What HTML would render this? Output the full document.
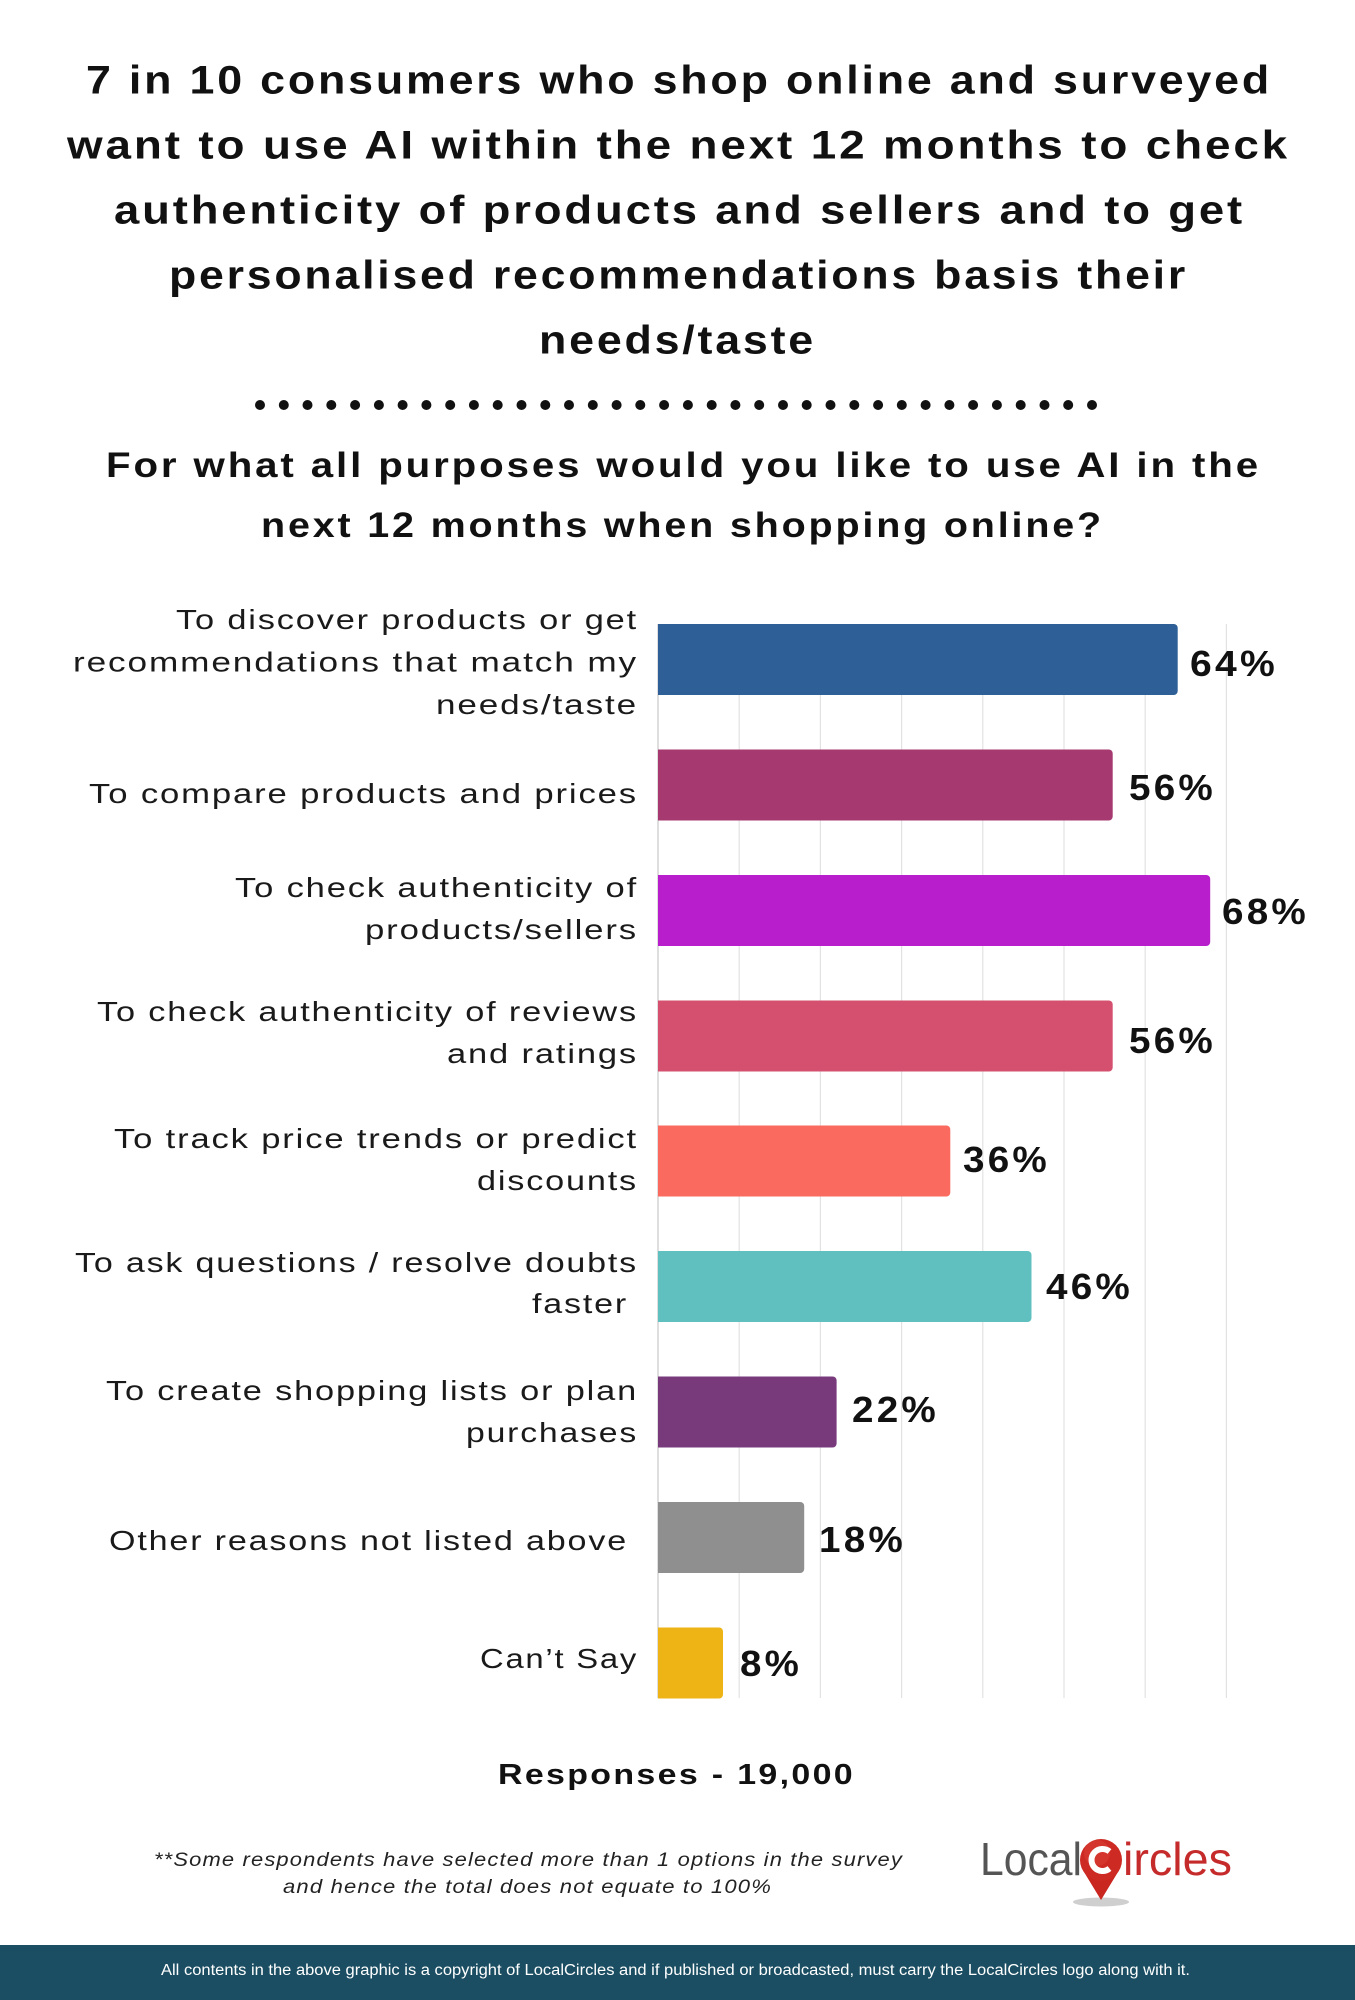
<!DOCTYPE html>
<html>
<head>
<meta charset="utf-8">
<style>
  html,body{margin:0;padding:0;background:#fff;}
  svg{display:block;}
  .t{font-family:"Liberation Sans",Arial,sans-serif;font-weight:bold;fill:#111;}
  .l{font-family:"Liberation Sans",Arial,sans-serif;font-weight:normal;fill:#1a1a1a;font-size:28px;letter-spacing:1.5px;}
  .v{font-family:"Liberation Sans",Arial,sans-serif;font-weight:bold;fill:#111;font-size:36px;letter-spacing:3px;}
</style>
</head>
<body>
<svg width="1355" height="2000" viewBox="0 0 1355 2000" xmlns="http://www.w3.org/2000/svg">
  <rect x="0" y="0" width="1355" height="2000" fill="#ffffff"/>

  <!-- Title -->
  <g class="t" font-size="40" letter-spacing="2.5">
    <text x="86" y="93.5" textLength="1186" lengthAdjust="spacingAndGlyphs">7 in 10 consumers who shop online and surveyed</text>
    <text x="67" y="158.5" textLength="1223" lengthAdjust="spacingAndGlyphs">want to use AI within the next 12 months to check</text>
    <text x="114" y="223.5" textLength="1131" lengthAdjust="spacingAndGlyphs">authenticity of products and sellers and to get</text>
    <text x="169" y="288.5" textLength="1019" lengthAdjust="spacingAndGlyphs">personalised recommendations basis their</text>
    <text x="539" y="353.5" textLength="277" lengthAdjust="spacingAndGlyphs">needs/taste</text>
  </g>

  <!-- Dots -->
  <g fill="#111">
    <circle cx="260" cy="405" r="5"/><circle cx="283.8" cy="405" r="5"/><circle cx="307.5" cy="405" r="5"/><circle cx="331.3" cy="405" r="5"/><circle cx="355.1" cy="405" r="5"/><circle cx="378.9" cy="405" r="5"/><circle cx="402.6" cy="405" r="5"/><circle cx="426.4" cy="405" r="5"/><circle cx="450.2" cy="405" r="5"/><circle cx="473.9" cy="405" r="5"/><circle cx="497.7" cy="405" r="5"/><circle cx="521.5" cy="405" r="5"/><circle cx="545.3" cy="405" r="5"/><circle cx="569" cy="405" r="5"/><circle cx="592.8" cy="405" r="5"/><circle cx="616.6" cy="405" r="5"/><circle cx="640.3" cy="405" r="5"/><circle cx="664.1" cy="405" r="5"/><circle cx="687.9" cy="405" r="5"/><circle cx="711.7" cy="405" r="5"/><circle cx="735.4" cy="405" r="5"/><circle cx="759.2" cy="405" r="5"/><circle cx="783" cy="405" r="5"/><circle cx="806.7" cy="405" r="5"/><circle cx="830.5" cy="405" r="5"/><circle cx="854.3" cy="405" r="5"/><circle cx="878.1" cy="405" r="5"/><circle cx="901.8" cy="405" r="5"/><circle cx="925.6" cy="405" r="5"/><circle cx="949.4" cy="405" r="5"/><circle cx="973.1" cy="405" r="5"/><circle cx="996.9" cy="405" r="5"/><circle cx="1020.7" cy="405" r="5"/><circle cx="1044.5" cy="405" r="5"/><circle cx="1068.2" cy="405" r="5"/><circle cx="1092" cy="405" r="5"/>
  </g>

  <!-- Subtitle -->
  <g class="t" font-size="35" letter-spacing="2.5">
    <text x="106" y="477" textLength="1155" lengthAdjust="spacingAndGlyphs">For what all purposes would you like to use AI in the</text>
    <text x="261" y="537" textLength="843" lengthAdjust="spacingAndGlyphs">next 12 months when shopping online?</text>
  </g>

  <!-- Gridlines -->
  <g stroke="#e2e2e2" stroke-width="1.2">
    <line x1="739.2" y1="624" x2="739.2" y2="1698"/>
    <line x1="820.4" y1="624" x2="820.4" y2="1698"/>
    <line x1="901.6" y1="624" x2="901.6" y2="1698"/>
    <line x1="982.8" y1="624" x2="982.8" y2="1698"/>
    <line x1="1064" y1="624" x2="1064" y2="1698"/>
    <line x1="1145.2" y1="624" x2="1145.2" y2="1698"/>
    <line x1="1226.4" y1="624" x2="1226.4" y2="1698"/>
  </g>
  <line x1="658" y1="624" x2="658" y2="1698" stroke="#cfcfcf" stroke-width="1.4"/>

  <!-- Bars -->
  <g>
    <rect x="658" y="624" width="519.7" height="71" rx="4" fill="#2E5F96"/>
    <rect x="658" y="624" width="10" height="71" fill="#2E5F96"/>

    <rect x="658" y="749.5" width="454.7" height="71" rx="4" fill="#A6396F"/>
    <rect x="658" y="749.5" width="10" height="71" fill="#A6396F"/>

    <rect x="658" y="875" width="552.2" height="71" rx="4" fill="#B81ECB"/>
    <rect x="658" y="875" width="10" height="71" fill="#B81ECB"/>

    <rect x="658" y="1000.5" width="454.7" height="71" rx="4" fill="#D5506E"/>
    <rect x="658" y="1000.5" width="10" height="71" fill="#D5506E"/>

    <rect x="658" y="1125.5" width="292.3" height="71" rx="4" fill="#FA6A5E"/>
    <rect x="658" y="1125.5" width="10" height="71" fill="#FA6A5E"/>

    <rect x="658" y="1251" width="373.5" height="71" rx="4" fill="#60C0C0"/>
    <rect x="658" y="1251" width="10" height="71" fill="#60C0C0"/>

    <rect x="658" y="1376.5" width="178.6" height="71" rx="4" fill="#793A7C"/>
    <rect x="658" y="1376.5" width="10" height="71" fill="#793A7C"/>

    <rect x="658" y="1502" width="146.2" height="71" rx="4" fill="#8F8F8F"/>
    <rect x="658" y="1502" width="10" height="71" fill="#8F8F8F"/>

    <rect x="658" y="1627.5" width="65" height="71" rx="4" fill="#EEB416"/>
    <rect x="658" y="1627.5" width="10" height="71" fill="#EEB416"/>
  </g>

  <!-- Value labels -->
  <g class="v">
    <text x="1190" y="676" textLength="88" lengthAdjust="spacingAndGlyphs">64%</text>
    <text x="1129" y="800" textLength="87" lengthAdjust="spacingAndGlyphs">56%</text>
    <text x="1222" y="924" textLength="87" lengthAdjust="spacingAndGlyphs">68%</text>
    <text x="1129" y="1053" textLength="87" lengthAdjust="spacingAndGlyphs">56%</text>
    <text x="963" y="1172" textLength="87" lengthAdjust="spacingAndGlyphs">36%</text>
    <text x="1046" y="1299" textLength="87" lengthAdjust="spacingAndGlyphs">46%</text>
    <text x="852" y="1422" textLength="87" lengthAdjust="spacingAndGlyphs">22%</text>
    <text x="819" y="1552" textLength="87" lengthAdjust="spacingAndGlyphs">18%</text>
    <text x="740" y="1676" textLength="62" lengthAdjust="spacingAndGlyphs">8%</text>
  </g>

  <!-- Category labels -->
  <g class="l">
    <text x="176" y="629" textLength="462" lengthAdjust="spacingAndGlyphs">To discover products or get</text>
    <text x="73" y="671.5" textLength="565" lengthAdjust="spacingAndGlyphs">recommendations that match my</text>
    <text x="436" y="714" textLength="202" lengthAdjust="spacingAndGlyphs">needs/taste</text>

    <text x="89" y="803" textLength="549" lengthAdjust="spacingAndGlyphs">To compare products and prices</text>

    <text x="235" y="897" textLength="403" lengthAdjust="spacingAndGlyphs">To check authenticity of</text>
    <text x="365" y="939" textLength="273" lengthAdjust="spacingAndGlyphs">products/sellers</text>

    <text x="97" y="1021" textLength="541" lengthAdjust="spacingAndGlyphs">To check authenticity of reviews</text>
    <text x="447" y="1063" textLength="191" lengthAdjust="spacingAndGlyphs">and ratings</text>

    <text x="114" y="1148" textLength="524" lengthAdjust="spacingAndGlyphs">To track price trends or predict</text>
    <text x="477" y="1190" textLength="161" lengthAdjust="spacingAndGlyphs">discounts</text>

    <text x="75" y="1272" textLength="563" lengthAdjust="spacingAndGlyphs">To ask questions / resolve doubts</text>
    <text x="532" y="1313" textLength="96" lengthAdjust="spacingAndGlyphs">faster</text>

    <text x="106" y="1400" textLength="532" lengthAdjust="spacingAndGlyphs">To create shopping lists or plan</text>
    <text x="466" y="1442" textLength="172" lengthAdjust="spacingAndGlyphs">purchases</text>

    <text x="109" y="1550" textLength="519" lengthAdjust="spacingAndGlyphs">Other reasons not listed above</text>

    <text x="480" y="1668" textLength="158" lengthAdjust="spacingAndGlyphs">Can’t Say</text>
  </g>

  <!-- Responses -->
  <text class="t" font-size="29" letter-spacing="2" x="498" y="1784" textLength="357" lengthAdjust="spacingAndGlyphs">Responses - 19,000</text>

  <!-- Footnote -->
  <g font-family="'Liberation Sans', Arial, sans-serif" font-style="italic" font-size="19" fill="#222" letter-spacing="1">
    <text x="154" y="1866" textLength="749" lengthAdjust="spacingAndGlyphs">**Some respondents have selected more than 1 options in the survey</text>
    <text x="283" y="1893" textLength="489" lengthAdjust="spacingAndGlyphs">and hence the total does not equate to 100%</text>
  </g>

  <!-- Logo -->
  <g>
    <text x="980" y="1875" font-family="'Liberation Sans', Arial, sans-serif" font-size="46" fill="#555555" textLength="102" lengthAdjust="spacingAndGlyphs">Local</text>
    <ellipse cx="1101" cy="1902" rx="28" ry="4.5" fill="#cfcfcf"/>
    <path d="M1084 1872 L1101 1900 L1118 1872 Z" fill="#c8261f"/>
    <circle cx="1101" cy="1860" r="21" fill="#cc2a22"/>
    <circle cx="1097" cy="1853" r="13" fill="#e0473c" opacity="0.4"/>
    <path d="M1109.5 1851.5 A11 11 0 1 0 1109.5 1868.5" fill="none" stroke="#ffffff" stroke-width="6" stroke-linecap="butt"/>
    <text x="1123" y="1875" font-family="'Liberation Sans', Arial, sans-serif" font-size="46" fill="#c62b2b" textLength="109" lengthAdjust="spacingAndGlyphs">ircles</text>
  </g>

  <!-- Footer -->
  <rect x="0" y="1945" width="1355" height="55" fill="#1b4e62"/>
  <text x="161" y="1975" font-family="'Liberation Sans', Arial, sans-serif" font-size="15.5" fill="#ffffff" textLength="1029" lengthAdjust="spacingAndGlyphs">All contents in the above graphic is a copyright of LocalCircles and if published or broadcasted, must carry the LocalCircles logo along with it.</text>
</svg>
</body>
</html>
